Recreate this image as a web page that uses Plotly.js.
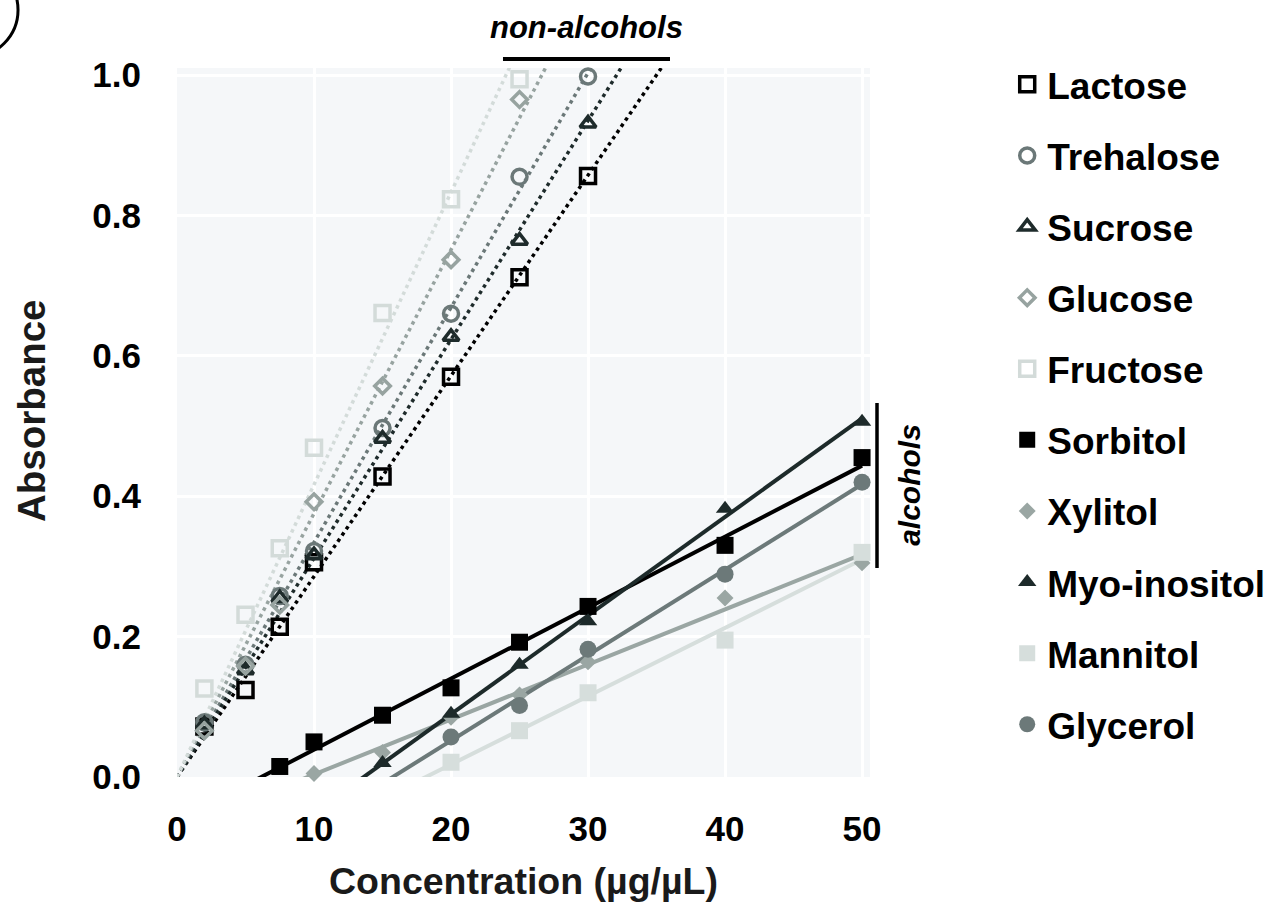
<!DOCTYPE html>
<html>
<head>
<meta charset="utf-8">
<script src="https://cdn.plot.ly/plotly-3.0.1.min.js"></script>
<style>html,body{margin:0;padding:0;background:#fff;}#chart{width:1274px;height:916px;}</style>
</head>
<body>
<div id="chart"></div>
<script>
// ---- data ----
const nonAlcX = [2, 5, 7.5, 10, 15, 20, 25, 30];
const lactose   = [0.072, 0.124, 0.214, 0.306, 0.428, 0.570, 0.712, 0.856];
const trehalose = [0.078, 0.160, 0.258, 0.322, 0.497, 0.660, 0.855, 0.998];
const sucrose   = [0.075, 0.152, 0.255, 0.316, 0.482, 0.627, 0.764, 0.931];
const sugarX25  = [2, 5, 7.5, 10, 15, 20, 25];
const glucose   = [0.066, 0.158, 0.245, 0.392, 0.557, 0.737, 0.965];
const fructose  = [0.126, 0.231, 0.326, 0.469, 0.661, 0.823, 0.994];

const sorbitolX = [7.5, 10, 15, 20, 25, 30, 40, 50];
const sorbitol  = [0.015, 0.050, 0.088, 0.127, 0.192, 0.243, 0.330, 0.455];
const xylitolX  = [10, 15, 20, 25, 30, 40, 50];
const xylitol   = [0.005, 0.035, 0.085, 0.117, 0.164, 0.255, 0.305];
const myoX      = [15, 20, 25, 30, 40, 50];
const myo       = [0.020, 0.090, 0.160, 0.222, 0.382, 0.506];
const mannitolX = [20, 25, 30, 40, 50];
const mannitol  = [0.021, 0.066, 0.120, 0.195, 0.320];
const glycerolX = [20, 25, 30, 40, 50];
const glycerol  = [0.057, 0.102, 0.182, 0.289, 0.420];

const xTicks = [0, 10, 20, 30, 40, 50];
const yTicks = [0, 0.2, 0.4, 0.6, 0.8, 1.0];

// ---- trendline helpers (least squares) ----
function fitOrigin(x, y) {
  let sxy = 0, sxx = 0;
  for (let i = 0; i < x.length; i++) { sxy += x[i] * y[i]; sxx += x[i] * x[i]; }
  return { a: sxy / sxx, b: 0 };
}
function fitLinear(x, y) {
  const n = x.length;
  const mx = x.reduce((s, v) => s + v, 0) / n;
  const my = y.reduce((s, v) => s + v, 0) / n;
  let sxy = 0, sxx = 0;
  for (let i = 0; i < n; i++) { sxy += (x[i] - mx) * (y[i] - my); sxx += (x[i] - mx) * (x[i] - mx); }
  const a = sxy / sxx;
  return { a: a, b: my - a * mx };
}

const FONT = 'Liberation Sans, Arial, sans-serif';

const series = [
  { name: 'Lactose',     x: nonAlcX,   y: lactose,   color: '#000000', symbol: 'square-open',       size: 15, alc: false },
  { name: 'Trehalose',   x: nonAlcX,   y: trehalose, color: '#6b7878', symbol: 'circle-open',       size: 15, alc: false },
  { name: 'Sucrose',     x: nonAlcX,   y: sucrose,   color: '#1e2b2b', symbol: 'triangle-up-open',  size: 14, alc: false },
  { name: 'Glucose',     x: sugarX25,  y: glucose,   color: '#97a3a0', symbol: 'diamond-open',      size: 12, alc: false },
  { name: 'Fructose',    x: sugarX25,  y: fructose,  color: '#d3dbd9', symbol: 'square-open',       size: 15, alc: false },
  { name: 'Sorbitol',    x: sorbitolX, y: sorbitol,  color: '#000000', symbol: 'square',            size: 17, alc: true },
  { name: 'Xylitol',     x: xylitolX,  y: xylitol,   color: '#9aa6a3', symbol: 'diamond',           size: 13, alc: true },
  { name: 'Myo-inositol',x: myoX,      y: myo,       color: '#1d2a2a', symbol: 'triangle-up',       size: 16, alc: true },
  { name: 'Mannitol',    x: mannitolX, y: mannitol,  color: '#d6dedc', symbol: 'square',            size: 17, alc: true },
  { name: 'Glycerol',    x: glycerolX, y: glycerol,  color: '#6c7979', symbol: 'circle',            size: 17, alc: true }
];

const traces = [];
// trendlines first (drawn below markers)
series.forEach(s => {
  const f = s.alc ? fitLinear(s.x, s.y) : fitOrigin(s.x, s.y);
  const x0 = 0, x1 = s.alc ? 50 : 45;
  traces.push({
    type: 'scatter', mode: 'lines', showlegend: false, hoverinfo: 'skip',
    x: [x0, x1], y: [f.a * x0 + f.b, f.a * x1 + f.b],
    line: s.alc ? { color: s.color, width: 4 } : { color: s.color, width: 3.5, dash: '3.5px,4px' }
  });
});
// markers
series.forEach((s, i) => {
  traces.push({
    type: 'scatter', mode: 'markers', name: s.name, legendgroup: 'g' + i,
    x: s.x, y: s.y, cliponaxis: false,
    marker: { symbol: s.symbol, size: s.size, color: s.color,
              line: { color: s.color, width: s.alc ? 0 : 3.5 } }
  });
});

const layout = {
  width: 1274, height: 916,
  margin: { l: 177, r: 404, t: 68, b: 139, autoexpand: false },
  paper_bgcolor: '#ffffff',
  plot_bgcolor: '#f5f7f9',
  font: { family: FONT, color: '#000' },
  showlegend: true,
  legend: {
    x: 1.198, xanchor: 'left', y: 1.02, yanchor: 'top',
    font: { family: FONT, size: 37, weight: 'bold', color: '#000' },
    tracegroupgap: 20, bgcolor: 'rgba(0,0,0,0)', itemclick: false,
    maxheight: 900
  },
  xaxis: {
    range: [0, 50.58], tickvals: xTicks, ticktext: xTicks.map(v => String(v)),
    showgrid: true, gridcolor: '#ffffff', gridwidth: 3,
    zeroline: false, showline: false, ticks: '',
    tickfont: { family: FONT, size: 35, weight: 'bold', color: '#000' },
    ticklabelstandoff: 28,
    title: { text: 'Concentration (µg/µL)', font: { family: FONT, size: 37.5, weight: 'bold', color: '#1a1a1a' }, standoff: 20 }
  },
  yaxis: {
    range: [0, 1.01], tickvals: yTicks, ticktext: yTicks.map(v => v.toFixed(1)),
    showgrid: true, gridcolor: '#ffffff', gridwidth: 3,
    zeroline: false, showline: false, ticks: '',
    tickfont: { family: FONT, size: 35, weight: 'bold', color: '#000' },
    ticklabelstandoff: 35
  },
  shapes: [
    { type: 'line', xref: 'paper', yref: 'paper', x0: 0.4704, x1: 0.7114, y0: 1.0127, y1: 1.0127, line: { color: '#000', width: 4 } },
    { type: 'line', xref: 'paper', yref: 'paper', x0: 1.0101, x1: 1.0101, y0: 0.2948, y1: 0.5275, line: { color: '#000', width: 3.5 } },
    { type: 'circle', xref: 'paper', yref: 'paper', x0: -0.365, x1: -0.2294, y0: 1.0155, y1: 1.148, line: { color: '#000', width: 3 } }
  ],
  annotations: [
    { text: 'Absorbance', xref: 'paper', yref: 'paper', x: -0.2107, y: 0.5176, showarrow: false, textangle: -90,
      xanchor: 'center', yanchor: 'middle',
      font: { family: FONT, size: 38.5, weight: 'bold', color: '#1a1a1a' } },
    { text: 'non-alcohols', xref: 'paper', yref: 'paper', x: 0.5916, y: 1.0578, showarrow: false,
      xanchor: 'center', yanchor: 'middle',
      font: { family: FONT, size: 31, weight: 'bold', style: 'italic', color: '#000' } },
    { text: 'alcohols', xref: 'paper', yref: 'paper', x: 1.056, y: 0.4118, showarrow: false, textangle: -90,
      xanchor: 'center', yanchor: 'middle',
      font: { family: FONT, size: 30, weight: 'bold', style: 'italic', color: '#000' } }
  ]
};

Plotly.newPlot('chart', traces, layout, { displayModeBar: false, staticPlot: true });
</script>
</body>
</html>
